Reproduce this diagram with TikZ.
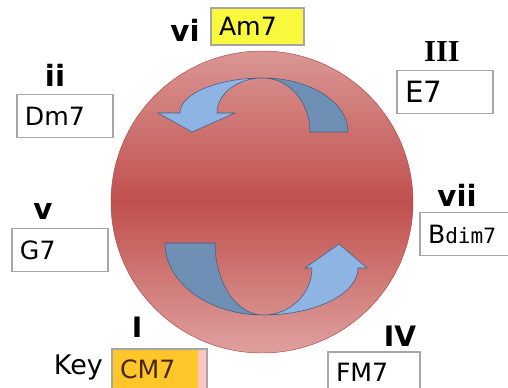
\documentclass[tikz,border=0pt]{standalone}
\usepackage{fontspec}
\setmainfont{DejaVu Sans}
\newfontfamily\romfont{Liberation Serif}
\newfontfamily\gothfont{DejaVu Sans Mono}
\usepackage{tikz}
\definecolor{ringtop}{RGB}{218,150,148}
\definecolor{ringmid}{RGB}{192,80,77}
\definecolor{arrowdark}{RGB}{111,143,181}
\definecolor{arrowlight}{RGB}{141,180,226}
\definecolor{arrowline}{RGB}{70,95,130}
\definecolor{boxgray}{RGB}{166,166,166}
\definecolor{tonicyellow}{RGB}{248,248,60}
\definecolor{keyorange}{RGB}{255,198,42}
\definecolor{keypink}{RGB}{252,200,190}
\definecolor{keytext}{RGB}{70,40,15}

\begin{document}
\begin{tikzpicture}[x=0.03cm,y=0.03cm]
\clip (0,0) rectangle (508,387);

\tikzstyle{chord}=[draw=boxgray,fill=white,line width=0.9pt,minimum height=1.29cm,text width=2.4cm,inner xsep=0.24cm,align=left,font=\fontsize{21.5}{25}\selectfont]
\tikzstyle{degree}=[inner sep=0pt,font=\fontsize{25}{28}\selectfont\bfseries]
\tikzstyle{bigdegree}=[inner sep=0pt,font=\fontsize{24}{28}\selectfont\bfseries]
\tikzstyle{band}=[draw=arrowline,line width=0.5pt]

%Circle
\shade[top color=ringtop,bottom color=ringtop!90!white,middle color=ringmid,draw=ringmid!90!black,line width=0.4pt] (262,185) circle[radius=151];

%Top arrow - dark back part
\filldraw[band,fill=arrowdark] (348,255) arc[start angle=0,end angle=90,x radius=85,y radius=54]
  arc[start angle=90,end angle=0,x radius=47,y radius=54] -- cycle;
%Top arrow - light front part
\filldraw[band,fill=arrowlight] (263,309) arc[start angle=90,end angle=180,x radius=83,y radius=35]
  -- (158,274) -- (192,255) -- (235,274) -- (217,274)
  arc[start angle=180,end angle=90,x radius=46,y radius=35] -- cycle;

%Bottom arrow - dark back part
\filldraw[band,fill=arrowdark] (165,144) arc[start angle=180,end angle=270,x radius=98,y radius=72]
  arc[start angle=270,end angle=180,x radius=48,y radius=72] -- cycle;
%Bottom arrow - light front part
\filldraw[band,fill=arrowlight] (263,72) arc[start angle=270,end angle=360,x radius=95,y radius=47]
  -- (367,119) -- (339,143) -- (305,119) -- (312,119)
  arc[start angle=0,end angle=-90,x radius=49,y radius=47] -- cycle;

%Chord boxes - white
\foreach \name/\x/\y in {Dm7/65/271, G7/60/137}
\node[chord] (C-\name) at (\x,\y) {\name};
\node[chord,font=\fontsize{25}{28}\selectfont] (C-E7) at (445,295) {E7};

%Chord boxes - others
\node[chord,fill=tonicyellow,minimum height=1.11cm,text width=2.31cm] (C-Am7) at (257.5,360.5) {Am7};
\node[chord] (C-Bdim7) at (468,153) {B{\gothfont\fontsize{18}{20}\selectfont dim7}};
\node[chord,fill=keypink,text=keytext,minimum height=1.2cm,text width=2.37cm,
  path picture={\fill[keyorange] (path picture bounding box.south west) rectangle ([xshift=-0.27cm]path picture bounding box.north east);}] (C-CM7) at (159.5,18) {CM7};
\node[chord,minimum height=1.2cm,text width=2.28cm] (C-FM7) at (374,15) {FM7};

%Degrees
\foreach \name/\x/\y in {vi/185/357, ii/55/312, vii/457/192, v/43/176}
\node[degree] (D-\name) at (\x,\y) {\name};
\foreach \name/\x/\y in {I/137/60, IV/400/51}
\node[bigdegree] (D-\name) at (\x,\y) {\name};
\node[degree,font=\romfont\fontsize{26}{30}\selectfont\bfseries] (D-III) at (442,335) {III};

%Key
\node[anchor=base east,inner sep=0pt,font=\fontsize{23}{26}\selectfont] (key-label) at (103,13) {Key};

\end{tikzpicture}
\end{document}
